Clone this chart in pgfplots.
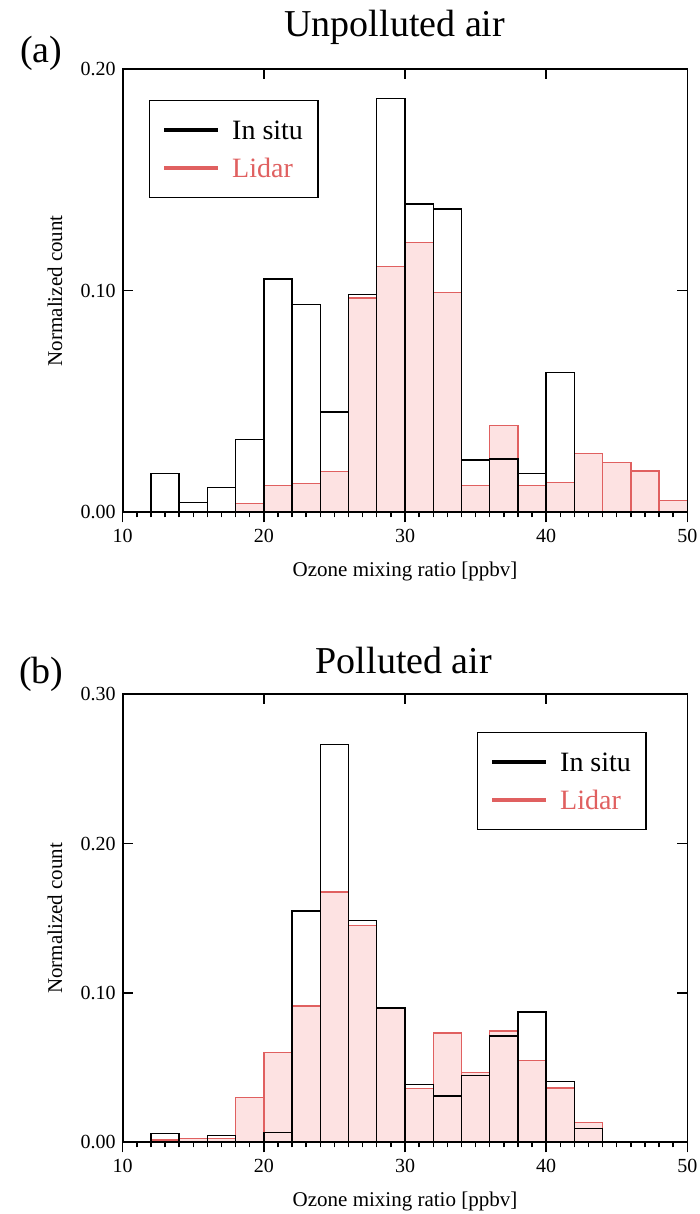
\documentclass[border=0pt]{standalone}
\usepackage{fontspec}
\setmainfont{Liberation Serif}
\usepackage{pgfplots}
\pgfplotsset{compat=1.18}
\definecolor{lidred}{RGB}{224,96,96}
\definecolor{lidfill}{RGB}{253,226,226}

\pgfplotsset{
  panel/.style={
    scale only axis, width=282.3pt,
    xmin=10, xmax=50, ymin=0,
    axis line style={line width=0.8pt},
    major tick length=5pt, minor tick length=2.5pt,
    every tick/.append style={black, line width=0.7pt},
    tick label style={font=\fontsize{10}{12}\selectfont},
    /pgf/number format/assume math mode=true,
  },
  dataaxis/.style={
    panel, tick align=outside,
    xtick={10,20,30,40,50}, minor x tick num=9, xtick pos=left,
    ytick=\empty,
    xlabel={Ozone mixing ratio [ppbv]},
    ylabel={Normalized count},
    label style={font=\fontsize{10.5}{12}\selectfont},
    ylabel style={at={(axis description cs:-0.1075,0.5)}, anchor=base},
    legend image code/.code={\draw[#1, line width=1.8pt] (0pt,0pt) -- (27pt,0pt);},
    legend cell align=left,
    legend style={anchor=north west, draw=black, line width=0.6pt,
      inner xsep=6.5pt, inner ysep=5.5pt, row sep=0.5pt, column sep=5pt,
      nodes={inner sep=1pt, text height=13pt, text depth=3.5pt},
      font=\fontsize{14}{16}\selectfont},
    title style={anchor=base, yshift=-6pt, font=\fontsize{19}{22}\selectfont},
  },
  frameaxis/.style={
    panel, tick align=inside, clip=false,
    xtick={20,30,40}, xtick pos=right, xticklabels={,,},
    ytick pos=both, yticklabel pos=left,
    yticklabel style={/pgf/number format/.cd, fixed, fixed zerofill, precision=2},
  },
}

\begin{document}
\begin{tikzpicture}
\useasboundingbox (0,0) rectangle (350pt,607pt);

% ---------------- (a) Unpolluted air ----------------
\begin{axis}[dataaxis, at={(61.35pt,350.85pt)}, anchor=south west,
  height=221.5pt, ymax=0.2,
  xlabel style={at={(axis description cs:0.5,-0.146)}, anchor=base},
  title={Unpolluted air},
  title style={at={(axis description cs:0.482,1.0729)}},
  legend style={at={(axis description cs:0.0466,0.9307)}},
]
\addlegendimage{black}
\addlegendentry{In situ}
\addlegendimage{lidred}
\addlegendentry{\textcolor{lidred}{Lidar}}
\addplot[ybar interval, draw=lidred, fill=lidfill, line width=0.7pt, forget plot] coordinates {
 (18,0.0041) (20,0.0120) (22,0.0131) (24,0.0185) (26,0.0967) (28,0.1110)
 (30,0.1217) (32,0.0992) (34,0.0120) (36,0.0391) (38,0.0120) (40,0.0134)
 (42,0.0265) (44,0.0226) (46,0.0186) (48,0.0054) (50,0)
};
\addplot[ybar interval, draw=black, fill=none, line width=0.7pt, forget plot] coordinates {
 (12,0.0176) (14,0.0044) (16,0.0113) (18,0.0329) (20,0.1054) (22,0.0937)
 (24,0.0453) (26,0.0983) (28,0.1868) (30,0.1391) (32,0.1370) (34,0.0236)
 (36,0.0241) (38,0.0176) (40,0.0630) (42,0)
};
\end{axis}
\begin{axis}[frameaxis, at={(61.35pt,350.85pt)}, anchor=south west,
  height=221.5pt, ymax=0.2, ytick={0,0.1,0.2}]
\node[anchor=base west, font=\fontsize{19}{22}\selectfont] at (axis description cs:-0.1943,1.0142) {(a)};
\end{axis}

% ---------------- (b) Polluted air ----------------
\begin{axis}[dataaxis, at={(61.35pt,35.85pt)}, anchor=south west,
  height=224pt, ymax=0.3,
  xlabel style={at={(axis description cs:0.5,-0.1444)}, anchor=base},
  title={Polluted air},
  title style={at={(axis description cs:0.498,1.0475)}},
  legend style={at={(axis description cs:0.6275,0.9158)}},
]
\addlegendimage{black}
\addlegendentry{In situ}
\addlegendimage{lidred}
\addlegendentry{\textcolor{lidred}{Lidar}}
\addplot[ybar interval, draw=lidred, fill=lidfill, line width=0.7pt, forget plot] coordinates {
 (12,0.0016) (14,0.0027) (16,0.0027) (18,0.0299) (20,0.0600) (22,0.0914)
 (24,0.1677) (26,0.1452) (28,0.0894) (30,0.0361) (32,0.0731) (34,0.0468)
 (36,0.0745) (38,0.0549) (40,0.0363) (42,0.0132) (44,0)
};
\addplot[ybar interval, draw=black, fill=none, line width=0.7pt, forget plot] coordinates {
 (12,0.0058) (14,0) (16,0.0047) (18,0) (20,0.0067) (22,0.1550)
 (24,0.2662) (26,0.1487) (28,0.0899) (30,0.0388) (32,0.0310) (34,0.0446)
 (36,0.0713) (38,0.0872) (40,0.0406) (42,0.0091) (44,0)
};
\end{axis}
\begin{axis}[frameaxis, at={(61.35pt,35.85pt)}, anchor=south west,
  height=224pt, ymax=0.3, ytick={0,0.1,0.2,0.3}]
\node[anchor=base west, font=\fontsize{19}{22}\selectfont] at (axis description cs:-0.1961,1.0252) {(b)};
\end{axis}
\end{tikzpicture}
\end{document}
